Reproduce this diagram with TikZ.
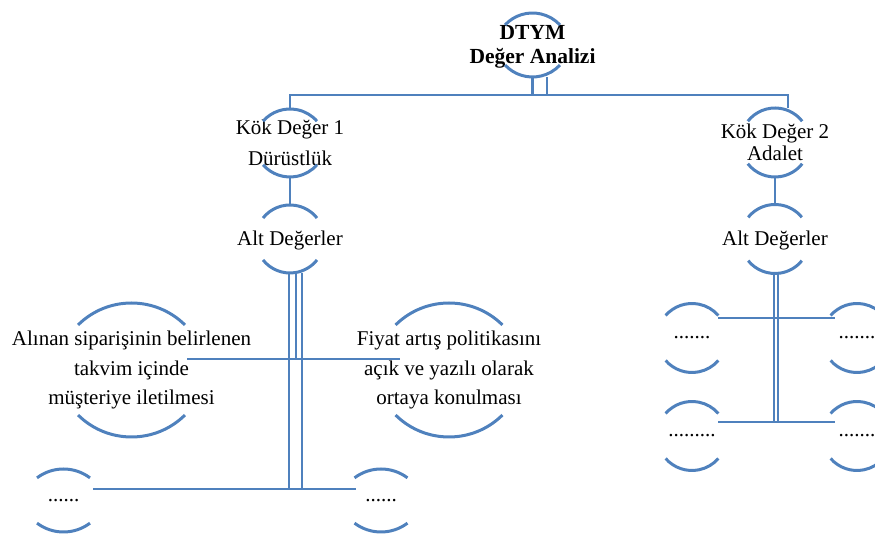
\documentclass[tikz,border=0pt]{standalone}
\usepackage{fontspec}
\setmainfont{Liberation Serif}
\usetikzlibrary{calc,positioning}
\definecolor{ringblue}{HTML}{4F81BD}
\tikzset{
		>=stealth,
		ring/.style={circle, minimum size=#1, inner sep=0pt, outer sep=0pt},
		ringtext/.style={align=center, font=\fontsize{21}{#1}\selectfont},
		ringline/.style={draw=ringblue, line width=3pt},
		link/.style={draw=ringblue, line width=2.7pt}
	}
% upper and lower arc of a ring: node, half height, arc radius, half angle
\newcommand{\ringarcs}[4]{%
  \draw[ringline] ([shift={(0,#2-#3)}]#1.center) ++(90+#4:#3) arc[start angle=90+#4, end angle=90-#4, radius=#3];
  \draw[ringline] ([shift={(0,#3-#2)}]#1.center) ++(270-#4:#3) arc[start angle=270-#4, end angle=270+#4, radius=#3];
}

\begin{document}
\begin{tikzpicture}[x=1pt,y=1pt]
              \useasboundingbox (0,0) rectangle (875,534);

              % the rings, the texts sit in their middle as labels
              \node[ring=64pt, label={[align=center, yshift=-2pt, font=\fontsize{21.5}{24}\selectfont\bfseries]center:DTYM\\Değer Analizi}] (dtym) at (532.5,489) {};
              \node[ring=68pt, label={[ringtext=31]center:Kök Değer 1\\Dürüstlük}] (kd1) at (290,391) {};
              \node[ring=68pt, label={[ringtext=22, yshift=-1pt]center:Alt Değerler}] (alt1) at (290,295) {};
              \node[ring=69pt, label={[ringtext=22]center:Kök Değer 2\\Adalet}] (kd2) at (775,391.5) {};
              \node[ring=69pt, label={[ringtext=22, yshift=-1pt]center:Alt Değerler}] (alt2) at (775,295) {};

              % the values under the first root
              \node[ring=134pt, label={[ringtext=29.5]center:Alınan siparişinin belirlenen\\takvim içinde\\müşteriye iletilmesi}] (sub11) at (131.5,164) {};
              \node[ring=134pt, label={[ringtext=29.5]center:Fiyat artış politikasını\\açık ve yazılı olarak\\ortaya konulması}] (sub12) at (449,164) {};
              \node[ring=63pt, label={[ringtext=22]center:......}] (sub13) at (63.5,33.5) {};
              \node[ring=63pt, label={[ringtext=22]center:......}] (sub14) at (381,33.5) {};

              % the values under the second root
              \node[ring=69pt, label={[ringtext=22]center:.......}] (sub21) at (692,196) {};
              \node[ring=69pt, label={[ringtext=22]center:.......}] (sub22) at (857,196) {};
              \node[ring=69pt, label={[ringtext=22]center:.........}] (sub23) at (692,98) {};
              \node[ring=69pt, label={[ringtext=22]center:.......}] (sub24) at (857,98) {};

              % draw the arcs
              \foreach \n/\h/\r/\a in {dtym/32/37.5/47, kd1/34/36/48.6, alt1/34/34.5/51.5, kd2/34.5/34.5/52, alt2/34.5/34.5/51,
                  sub11/67/76/44.7, sub12/67/76/44.7, sub13/31.5/44/37, sub14/31.5/44/37,
                  sub21/34.5/35/49, sub22/34.5/35/49, sub23/34.5/35/49, sub24/34.5/35/49}
                  {\ringarcs{\n}{\h}{\r}{\a}}

              % top to the roots
              \coordinate (bus) at (532,439);
              \draw[link] (dtym.south) -- (dtym.south |- bus);
              \draw[link] ([xshift=14.5pt]dtym.south) -- ++(0,-18);
              \draw[link] (kd1.north) |- (bus) -| ([xshift=13pt]kd2.north);

              % roots to their sub values
              \draw[link] (kd1) -- (alt1);
              \draw[link] (kd2) -- (alt2);

              % left branch
              \draw[link] ([xshift=-1pt]alt1.south) -- ++(0,-216);
              \draw[link] ([xshift=6pt]alt1.south) -- ++(0,-86);
              \draw[link] ([xshift=12pt]alt1.south) -- ++(0,-216);
              \draw[link] ([shift={(55.5,11)}]sub11.center) -- ([shift={(-49,11)}]sub12.center);
              \draw[link] ([shift={(29.5,11.5)}]sub13.center) -- ([shift={(-25,11.5)}]sub14.center);

              % right branch
              \draw[link] ([xshift=-1pt]alt2.south) -- ++(0,-148.5);
              \draw[link] ([xshift=3pt]alt2.south) -- ++(0,-148.5);
              \draw[link] ([shift={(26,20)}]sub21.center) -- ([shift={(-22,20)}]sub22.center);
              \draw[link] ([shift={(26,14)}]sub23.center) -- ([shift={(-22,14)}]sub24.center);

          \end{tikzpicture}
\end{document}
